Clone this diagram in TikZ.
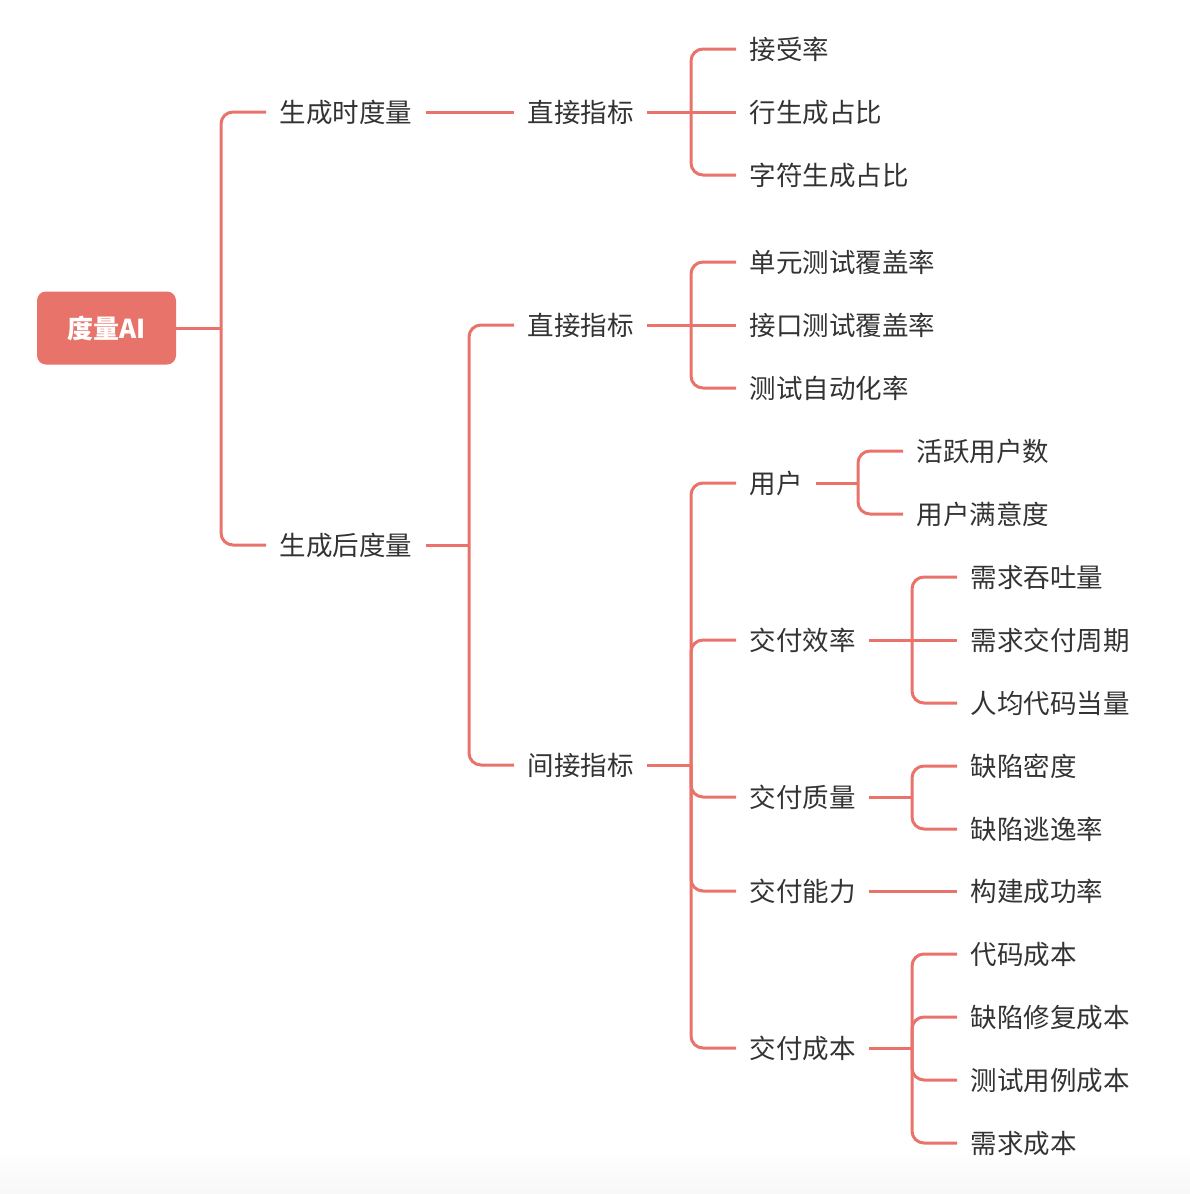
\documentclass[tikz,border=0pt]{standalone}
\usepackage{fontspec}
\setmainfont{Noto Sans CJK SC}
\definecolor{linec}{HTML}{E9736B}
\definecolor{rootc}{HTML}{E8736B}
\definecolor{txtc}{HTML}{333333}
\begin{document}
\begin{tikzpicture}[x=1pt,y=-1pt,
  conn/.style={draw=linec,line width=3pt,rounded corners=12pt},
  lbl/.style={anchor=west,inner xsep=13.5pt,inner ysep=0pt,font=\fontsize{26.5pt}{30pt}\selectfont,text=txtc,text height=21.5pt,text depth=0pt},
  rootbox/.style={fill=rootc,rounded corners=9pt,minimum width=139pt,minimum height=73pt,text=white,font=\fontsize{26pt}{30pt}\selectfont\bfseries,inner sep=0pt}]
\useasboundingbox (0,0) rectangle (1190,1194);
\shade[top color=white,bottom color=black!3] (0,1150) rectangle (1190,1194);
% nodes
\node[rootbox] (root) at (106.5,328) {度量AI};
\node[lbl] (A1) at (266,112) {生成时度量};
\node[lbl] (A2) at (266,545) {生成后度量};
\node[lbl] (B1) at (514,112) {直接指标};
\node[lbl] (B2) at (514,325) {直接指标};
\node[lbl] (B3) at (514,765) {间接指标};
\node[lbl] (L11) at (736,49) {接受率};
\node[lbl] (L12) at (736,112) {行生成占比};
\node[lbl] (L13) at (736,175) {字符生成占比};
\node[lbl] (L21) at (736,262) {单元测试覆盖率};
\node[lbl] (L22) at (736,325) {接口测试覆盖率};
\node[lbl] (L23) at (736,388) {测试自动化率};
\node[lbl] (C1) at (736,483) {用户};
\node[lbl] (C2) at (736,640) {交付效率};
\node[lbl] (C3) at (736,797) {交付质量};
\node[lbl] (C4) at (736,891) {交付能力};
\node[lbl] (C5) at (736,1048) {交付成本};
\node[lbl] (D11) at (903,451) {活跃用户数};
\node[lbl] (D12) at (903,514) {用户满意度};
\node[lbl] (D21) at (957,577) {需求吞吐量};
\node[lbl] (D22) at (957,640) {需求交付周期};
\node[lbl] (D23) at (957,703) {人均代码当量};
\node[lbl] (D31) at (957,766) {缺陷密度};
\node[lbl] (D32) at (957,829) {缺陷逃逸率};
\node[lbl] (D41) at (957,891) {构建成功率};
\node[lbl] (D51) at (957,954) {代码成本};
\node[lbl] (D52) at (957,1017) {缺陷修复成本};
\node[lbl] (D53) at (957,1080) {测试用例成本};
\node[lbl] (D54) at (957,1143) {需求成本};
% junctions
\coordinate (j0) at (221,328);
\coordinate (j1) at (691,112);
\coordinate (j2) at (469,545);
\coordinate (j3) at (691,325);
\coordinate (j4) at (691,765);
\coordinate (j5) at (858,483);
\coordinate (j6) at (912,640);
\coordinate (j7) at (912,797);
\coordinate (j8) at (912,1048);
% connectors
\draw[conn] (root.east) -- (j0);
\foreach \c in {A1,A2} \draw[conn] (j0) |- (\c.west);
\draw[conn] (A1.east) -- (B1.west);
\draw[conn] (B1.east) -- (L12.west);
\foreach \c in {L11,L13} \draw[conn] (j1) |- (\c.west);
\draw[conn] (A2.east) -- (j2);
\foreach \c in {B2,B3} \draw[conn] (j2) |- (\c.west);
\draw[conn] (B2.east) -- (L22.west);
\foreach \c in {L21,L23} \draw[conn] (j3) |- (\c.west);
\draw[conn] (B3.east) -- (j4);
\foreach \c in {C1,C2,C3,C4,C5} \draw[conn] (j4) |- (\c.west);
\draw[conn] (C1.east) -- (j5);
\foreach \c in {D11,D12} \draw[conn] (j5) |- (\c.west);
\draw[conn] (C2.east) -- (D22.west);
\foreach \c in {D21,D23} \draw[conn] (j6) |- (\c.west);
\draw[conn] (C3.east) -- (j7);
\foreach \c in {D31,D32} \draw[conn] (j7) |- (\c.west);
\draw[conn] (C4.east) -- (D41.west);
\draw[conn] (C5.east) -- (j8);
\foreach \c in {D51,D52,D53,D54} \draw[conn] (j8) |- (\c.west);
\end{tikzpicture}
\end{document}
